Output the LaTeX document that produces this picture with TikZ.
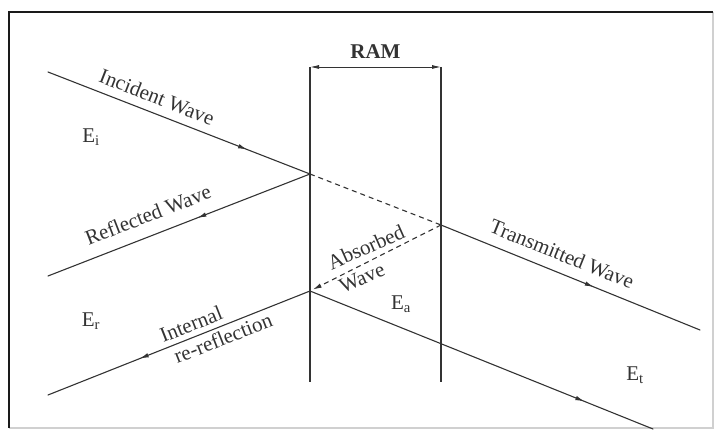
\documentclass[tikz,border=0pt]{standalone}
\usepackage{fontspec}
\setmainfont{Liberation Serif}
\usepackage{xcolor}
\usetikzlibrary{arrows.meta,decorations.markings}
\definecolor{ink}{HTML}{333333}
\definecolor{edge}{HTML}{1A1A1A}
\definecolor{faint}{HTML}{D0D0D0}
\tikzset{
  wave/.style={draw=ink, line width=1.1pt, line cap=round},
  absb/.style={draw=ink, line width=1.1pt, dash pattern=on 5pt off 4pt},
  face/.style={draw=ink, line width=1.1pt},
  ramw/.style={draw=ink, line width=0.9pt, {Latex[length=9pt,width=4pt]}-{Latex[length=9pt,width=4pt]}},
  midarr/.style={postaction={decorate,decoration={markings,
      mark=at position #1 with {\arrow{Latex[length=9pt,width=4.5pt]}}}}},
  lab/.style={text=ink, font=\fontsize{21}{23}\selectfont, inner sep=0pt},
  elab/.style={lab},
}

\begin{document}
\begin{tikzpicture}[x=1pt,y=-1pt]
  \useasboundingbox (0,0) rectangle (716,430);
  % frame
  \draw[draw=faint, line width=1.2pt] (713,12) -- (713,428) -- (9,428);
  \draw[draw=edge, line width=2pt] (9,428) -- (9,12) -- (713,12);

  % absorber faces
  \coordinate (F1) at (310,67);
  \coordinate (F2) at (310,382);
  \coordinate (B1) at (441,67);
  \coordinate (B2) at (441,382);
  \draw[face] (F1) -- (F2);
  \draw[face] (B1) -- (B2);
  \draw[ramw] (F1) -- (B1);
  \node[lab] (ram) at (375.5,52) {\textbf{RAM}};

  % ray points
  \coordinate (inA) at (48,72);
  \coordinate (P1) at (310,174);
  \coordinate (refB) at (48,276);
  \coordinate (P2) at (441,225);
  \coordinate (trC) at (700,330);
  \coordinate (P3) at (310,291);
  \coordinate (irD) at (48,395);
  \coordinate (trD) at (653,429);

  \draw[wave, midarr=0.76] (inA) -- (P1);
  \draw[wave, midarr=0.43] (P1) -- (refB);
  \draw[absb] (P1) -- (P2);
  \draw[wave, midarr=0.59] (P2) -- (trC);
  \draw[absb, -{Latex[length=9pt,width=4.5pt]}, shorten >=3pt] (P2) -- (P3);
  \draw[wave, midarr=0.65] (P3) -- (irD);
  \draw[wave, midarr=0.80] (P3) -- (trD);

  % labels
  \node[lab, rotate=-21.3] (incL) at (157,97) {Incident Wave};
  \node[lab, rotate=21.3] (refL) at (148,215) {Reflected Wave};
  \node[lab, rotate=24] (absL1) at (366,247) {Absorbed};
  \node[lab, rotate=24] (absL2) at (362,278) {Wave};
  \node[lab, rotate=-22] (trL) at (562,254) {Transmitted Wave};
  \node[lab, rotate=21.6] (irL1) at (191,324) {Internal};
  \node[lab, rotate=21.6] (irL2) at (223,338) {re-reflection};

  \node[elab] (Ei) at (91,137) {E\textsubscript{i}};
  \node[elab] (Er) at (91,321) {E\textsubscript{r}};
  \node[elab] (Ea) at (401,304) {E\textsubscript{a}};
  \node[elab] (Et) at (635,375) {E\textsubscript{t}};
\end{tikzpicture}
\end{document}
